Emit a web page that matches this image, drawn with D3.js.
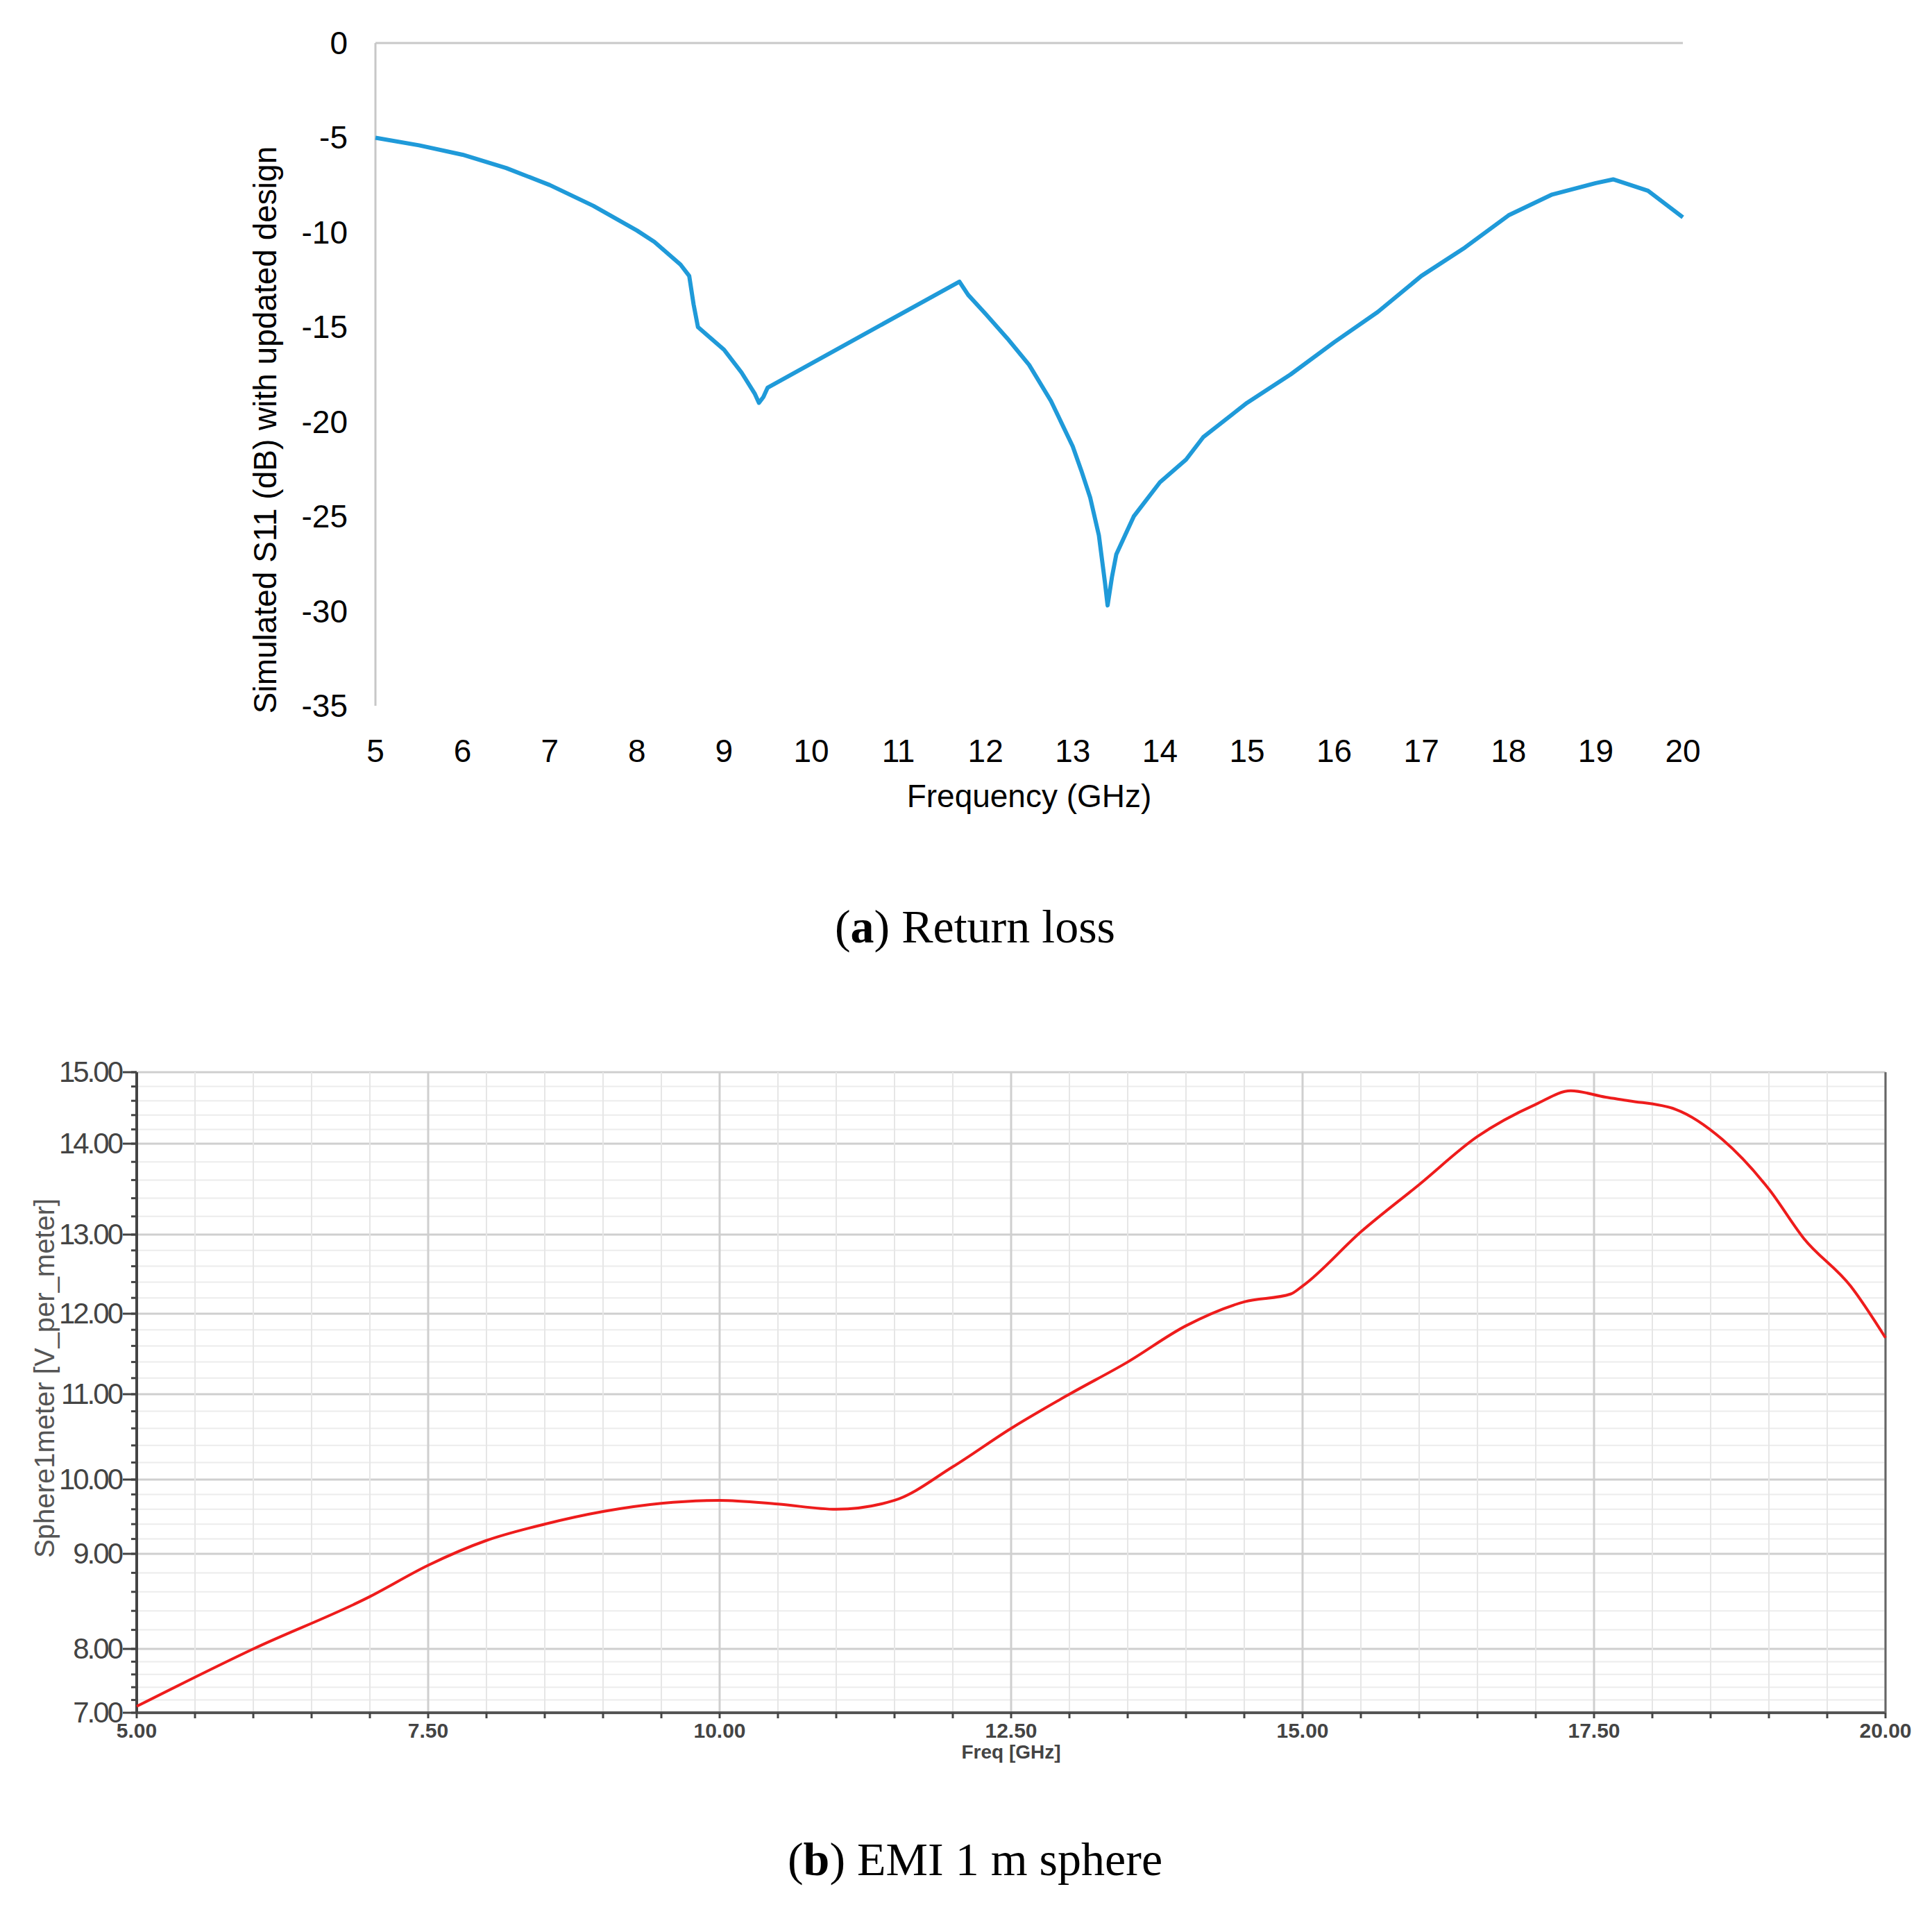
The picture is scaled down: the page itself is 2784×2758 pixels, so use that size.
<!DOCTYPE html><html><head><meta charset="utf-8"><script src="https://cdn.jsdelivr.net/npm/d3@7"></script>
<style>body{margin:0;background:#fff}text{font-family:"Liberation Sans",Arial,sans-serif}text.cap{font-family:"Liberation Serif","DejaVu Serif",serif}</style></head><body>
<svg id="c" width="2784" height="2758"></svg>
<script>
const s11Freq=[5,5.5,6,6.5,7,7.5,8,8.2,8.5,8.6,8.65,8.7,9.0,9.2,9.35,9.4,9.45,9.5,11.7,11.8,12,12.25,12.5,12.75,13,13.1,13.2,13.3,13.37,13.4,13.45,13.5,13.7,14,14.3,14.5,15,15.5,16,16.5,17,17.5,18,18.5,19,19.2,19.6,20];
const s11Val=[-5,-5.4,-5.9,-6.6,-7.5,-8.6,-9.9,-10.5,-11.7,-12.3,-13.8,-15,-16.2,-17.4,-18.5,-19,-18.7,-18.2,-12.6,-13.3,-14.3,-15.6,-17,-18.9,-21.3,-22.6,-24,-26,-28.5,-29.7,-28.2,-27,-25,-23.2,-22,-20.8,-19,-17.5,-15.8,-14.2,-12.3,-10.8,-9.1,-8,-7.4,-7.2,-7.8,-9.2];
const emiFreq=[5,6,7,7.5,8,8.5,9,9.5,10,10.5,11,11.5,12,12.5,13,13.5,14,14.5,14.9,15,15.5,16,16.5,17,17.3,17.6,17.8,18.2,18.6,19,19.3,19.7,20];
const emiVal=[7.1,8.0,8.55,8.88,9.18,9.4,9.57,9.68,9.72,9.67,9.6,9.72,10.15,10.6,11.0,11.4,11.85,12.15,12.25,12.35,13.03,13.55,14.1,14.55,14.74,14.65,14.6,14.48,14.06,13.5,12.95,12.35,11.7];
const s11YTicks=[0,-5,-10,-15,-20,-25,-30,-35];
const s11XTicks=[5,6,7,8,9,10,11,12,13,14,15,16,17,18,19,20];
const emiYTicks=[7,8,9,10,11,12,13,14,15];
const emiXTicks=[5,7.5,10,12.5,15,17.5,20];

const svg=d3.select("#c");
const xa=d3.scaleLinear().domain([5,20]).range([541,2425]);
const ya=d3.scaleLinear().domain([0,-35]).range([62,1017]);
const ga=svg.append("g");
ga.append("line").attr("x1",xa(5)).attr("x2",xa(20)).attr("y1",ya(0)).attr("y2",ya(0)).attr("stroke","#c8c8c8").attr("stroke-width",3);
ga.append("line").attr("x1",xa(5)).attr("x2",xa(5)).attr("y1",ya(0)).attr("y2",ya(-35)).attr("stroke","#c8c8c8").attr("stroke-width",3);
ga.selectAll(".yt").data(s11YTicks).join("text").attr("x",xa(5)-40).attr("y",d=>ya(d)+16).attr("text-anchor","end").attr("font-size",46).text(d=>d);
ga.selectAll(".xt").data(s11XTicks).join("text").attr("x",d=>xa(d)).attr("y",1098).attr("text-anchor","middle").attr("font-size",46).text(d=>d);
ga.append("text").attr("x",(xa(5)+xa(20))/2).attr("y",1163).attr("text-anchor","middle").attr("font-size",46).text("Frequency (GHz)");
ga.append("text").attr("transform",`translate(398,${ya(-17.5)+80}) rotate(-90)`).attr("text-anchor","middle").attr("font-size",46).text("Simulated S11 (dB) with updated design");
ga.append("path").datum(s11Freq.map((f,i)=>[f,s11Val[i]])).attr("fill","none").attr("stroke","#1f9ad9").attr("stroke-width",6).attr("stroke-linejoin","round")
  .attr("d",d3.line().x(d=>xa(d[0])).y(d=>ya(d[1])));
svg.append("text").attr("class","cap").attr("x",1405).attr("y",1358).attr("text-anchor","middle").attr("font-size",68)
  .html('(<tspan font-weight="bold">a</tspan>) Return loss');

const xb=d3.scaleLinear().domain([5,20]).range([197,2717]);
const yb=d3.scaleLinear().domain(emiYTicks).range([2468,2376,2239,2132,2009,1893,1779,1648,1545]);
const gb=svg.append("g");
const minorY=d3.range(7,15.001,0.2).map(v=>+v.toFixed(1));
const minorX=d3.range(5,20.001,0.5);
gb.selectAll(".hg").data(minorY).join("line").attr("x1",xb(5)).attr("x2",xb(20)).attr("y1",d=>yb(d)).attr("y2",d=>yb(d))
  .attr("stroke",d=>Number.isInteger(d)?"#cfcfcf":"#ececec").attr("stroke-width",d=>Number.isInteger(d)?3:2);
gb.selectAll(".vg").data(minorX).join("line").attr("y1",yb(7)).attr("y2",yb(15)).attr("x1",d=>xb(d)).attr("x2",d=>xb(d))
  .attr("stroke",d=>(d*2)%5===0?"#cfcfcf":"#e6e6e6").attr("stroke-width",d=>(d*2)%5===0?3:2);
gb.append("line").attr("x1",xb(5)).attr("x2",xb(20)).attr("y1",yb(7)).attr("y2",yb(7)).attr("stroke","#555").attr("stroke-width",4);
gb.append("line").attr("x1",xb(5)).attr("x2",xb(5)).attr("y1",yb(7)).attr("y2",yb(15)).attr("stroke","#444").attr("stroke-width",4);
gb.append("line").attr("x1",xb(20)).attr("x2",xb(20)).attr("y1",yb(7)).attr("y2",yb(15)).attr("stroke","#666").attr("stroke-width",3);
gb.selectAll(".ymt").data(minorY).join("line").attr("x1",xb(5)-8).attr("x2",xb(5)).attr("y1",d=>yb(d)).attr("y2",d=>yb(d)).attr("stroke","#444").attr("stroke-width",3);
gb.selectAll(".ymaj").data(emiYTicks).join("line").attr("x1",xb(5)-20).attr("x2",xb(5)).attr("y1",d=>yb(d)).attr("y2",d=>yb(d)).attr("stroke","#444").attr("stroke-width",3);
gb.selectAll(".xmt").data(minorX).join("line").attr("y1",yb(7)).attr("y2",yb(7)+8).attr("x1",d=>xb(d)).attr("x2",d=>xb(d)).attr("stroke","#444").attr("stroke-width",3);
gb.selectAll(".yt").data(emiYTicks).join("text").attr("x",xb(5)-22).attr("y",d=>yb(d)+14).attr("text-anchor","end").attr("font-size",42).attr("fill","#444").attr("letter-spacing",-3).text(d=>d.toFixed(2));
gb.selectAll(".xt").data(emiXTicks).join("text").attr("x",d=>xb(d)).attr("y",yb(7)+36).attr("text-anchor","middle").attr("font-size",30).attr("font-weight","bold").attr("fill","#444").text(d=>d.toFixed(2));
gb.append("text").attr("x",xb(12.5)).attr("y",yb(7)+66).attr("text-anchor","middle").attr("font-size",28).attr("font-weight","bold").attr("fill","#444").text("Freq [GHz]");
gb.append("text").attr("transform",`translate(78,${yb(11.2)}) rotate(-90)`).attr("text-anchor","middle").attr("font-size",40).attr("fill","#555").text("Sphere1meter [V_per_meter]");
gb.append("path").datum(emiFreq.map((f,i)=>[f,emiVal[i]])).attr("fill","none").attr("stroke","#ee1c1c").attr("stroke-width",4)
  .attr("d",d3.line().x(d=>xb(d[0])).y(d=>yb(d[1])).curve(d3.curveMonotoneX));
svg.append("text").attr("class","cap").attr("x",1405).attr("y",2702).attr("text-anchor","middle").attr("font-size",68)
  .html('(<tspan font-weight="bold">b</tspan>) EMI 1 m sphere');
</script></body></html>
